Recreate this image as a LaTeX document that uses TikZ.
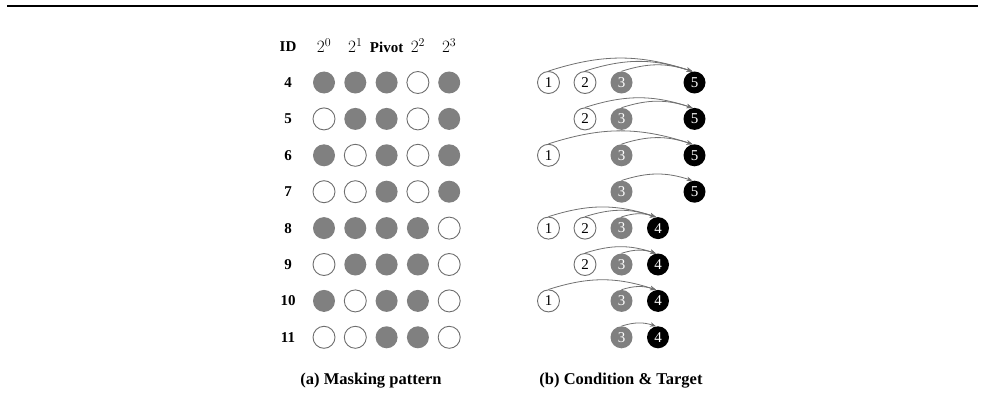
\documentclass[tikz,border=0pt]{standalone}
\usepackage{fontspec}
\setmainfont{Liberation Serif}
\usetikzlibrary{arrows.meta}
\definecolor{dotgray}{HTML}{808080}
\definecolor{rimgray}{HTML}{6E6E6E}
\definecolor{arrgray}{HTML}{707070}
\tikzset{
  lab/.style={font=\bfseries\fontsize{15}{18}\selectfont, inner sep=0pt},
  hdr/.style={font=\fontsize{17}{20}\selectfont, inner sep=0pt},
  capt/.style={font=\bfseries\fontsize{16.5}{20}\selectfont, inner sep=0pt},
  dot/.style={circle, minimum size=22pt, inner sep=0pt},
  mask0/.style={dot, draw=rimgray, line width=0.9pt, fill=white},
  mask1/.style={dot, fill=dotgray},
  num/.style={dot, font=\fontsize{15}{17}\selectfont},
  condw/.style={num, draw=rimgray, line width=0.9pt, fill=white, text=black},
  condg/.style={num, fill=dotgray, text=white},
  condc1/.style={condw}, condc2/.style={condw}, condc3/.style={condg},
  tgtc/.style={num, fill=black, text=white},
  arr/.style={draw=arrgray, line width=0.8pt, -{Stealth[length=6pt,width=4.5pt]}},
}
\begin{document}
\begin{tikzpicture}[x=1pt,y=-1pt]
\useasboundingbox (0,0) rectangle (985,404);
\draw[line width=2pt] (7,6.5) coordinate (rl) -- (978,6.5) coordinate (rr);
% header
\node[lab] (hid) at (288,47) {ID};
\node[hdr] (h0) at (324,45.5) {$2^0$};
\node[hdr] (h1) at (355.3,45.5) {$2^1$};
\node[lab] (hp) at (386.6,47) {Pivot};
\node[hdr] (h2) at (417.9,45.5) {$2^2$};
\node[hdr] (h3) at (449.2,45.5) {$2^3$};
% masking pattern
\foreach \id/\a/\b/\cc/\d/\e [count=\r from 0] in
  {4/1/1/1/0/1, 5/0/1/1/0/1, 6/1/0/1/0/1, 7/0/0/1/0/1,
   8/1/1/1/1/0, 9/0/1/1/1/0, 10/1/0/1/1/0, 11/0/0/1/1/0}{
  \pgfmathsetmacro\yy{82.5+36.4*\r}
  \node[lab] (id\id) at (288,\yy) {\id};
  \foreach \v/\col [count=\k] in {\a/324,\b/355.3,\cc/386.6,\d/417.9,\e/449.2}{
    \node[mask\v] (m\id-\k) at (\col,\yy) {};
  }
}
% condition & target
\foreach \id/\tgt/\conds [count=\r from 0] in
  {4/5/{1,2,3}, 5/5/{2,3}, 6/5/{1,3}, 7/5/{3},
   8/4/{1,2,3}, 9/4/{2,3}, 10/4/{1,3}, 11/4/{3}}{
  \pgfmathsetmacro\yy{82.5+36.4*\r}
  \node[tgtc] (t\id) at ({548.5+36.5*(\tgt-1)},\yy) {\tgt};
  \foreach \c in \conds {
    \node[condc\c] (c\id-\c) at ({548.5+36.5*(\c-1)},\yy) {\c};
    \draw[arr] (c\id-\c.north) to[bend left=18] (t\id.100);
  }
}
% captions
\node[capt] (capa) at (371,381) {(a) Masking pattern};
\node[capt] (capb) at (621,381) {(b) Condition \& Target};
\end{tikzpicture}
\end{document}
